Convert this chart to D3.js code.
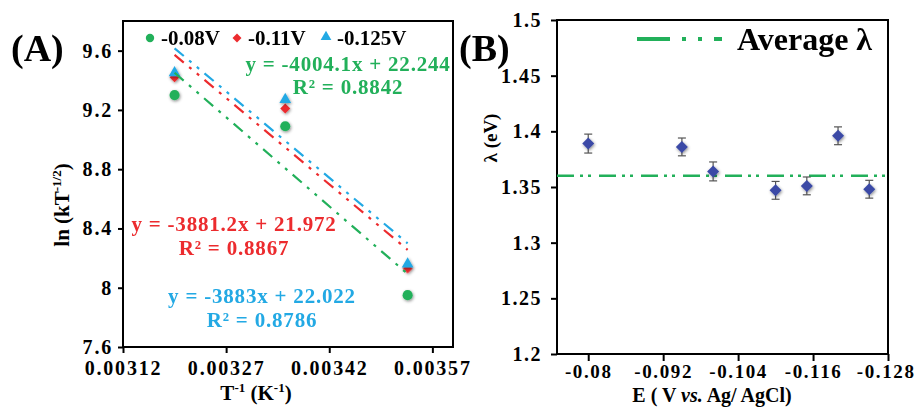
<!DOCTYPE html>
<html>
<head>
<meta charset="utf-8">
<script src="https://cdn.jsdelivr.net/npm/d3@7"></script>
<style>
  body { margin: 0; background: #fff; }
  svg text { font-family: "Liberation Serif", "Times New Roman", serif; font-weight: bold; fill: #000; }
</style>
</head>
<body>
<svg id="chart" width="919" height="407"></svg>
<script>
// ---- Panel A: ln(kT^-1/2) vs 1/T at three potentials ----
const invT = [0.003195, 0.003356, 0.003534];
const seriesNames = ["-0.08V", "-0.11V", "-0.125V"];
const lnK_080 = [9.30, 9.09, 7.95];
const lnK_110 = [9.42, 9.21, 8.13];
const lnK_125 = [9.45, 9.27, 8.16];
const fitSlopes = [-4004.1, -3881.2, -3883];
const fitIntercepts = [22.244, 21.972, 22.022];
const fitR2 = ["0.8842", "0.8867", "0.8786"];
const xTicksA = [0.00312, 0.00327, 0.00342, 0.00357];
const xTickLabelsA = ["0.00312", "0.00327", "0.00342", "0.00357"];
const yTicksA = [7.6, 8, 8.4, 8.8, 9.2, 9.6];
const yTickLabelsA = ["7.6", "8", "8.4", "8.8", "9.2", "9.6"];

// ---- Panel B: reorganisation energy vs potential ----
const potentialE = [-0.08, -0.095, -0.1, -0.11, -0.115, -0.12, -0.125];
const lambdaEV = [1.389, 1.386, 1.364, 1.347, 1.351, 1.396, 1.348];
const lambdaErr = [0.0085, 0.008, 0.0085, 0.008, 0.008, 0.008, 0.008];
const avgLambda = 1.36;
const xTicksB = [-0.08, -0.092, -0.104, -0.116, -0.128];
const xTickLabelsB = ["-0.08", "-0.092", "-0.104", "-0.116", "-0.128"];
const yTicksB = [1.2, 1.25, 1.3, 1.35, 1.4, 1.45, 1.5];
const yTickLabelsB = ["1.2", "1.25", "1.3", "1.35", "1.4", "1.45", "1.5"];

const GREEN = "#22B05A", RED = "#EC2B2E", BLUE = "#23A9E4", NAVY = "#3B4AA6";
const seriesColors = [GREEN, RED, BLUE];
const seriesValues = [lnK_080, lnK_110, lnK_125];

const svg = d3.select("#chart");
const defs = svg.append("defs");
const f = defs.append("filter").attr("id", "soft")
  .attr("x", "-60%").attr("y", "-60%").attr("width", "220%").attr("height", "220%");
f.append("feDropShadow").attr("dx", 0.8).attr("dy", 1.2).attr("stdDeviation", 1.5)
  .attr("flood-color", "#000").attr("flood-opacity", 0.45);

function styleAxis(g, size, spacing) {
  g.attr("font-family", null).attr("font-size", null);
  g.select(".domain").remove();
  g.selectAll(".tick line").attr("stroke", "#000").attr("stroke-width", 2);
  g.selectAll(".tick text")
    .style("font-size", size + "px")
    .style("letter-spacing", spacing + "px")
    .attr("fill", "#000");
}

function symbolPath(type, size) {
  return d3.symbol().type(type).size(size)();
}

// ================= Panel A =================
const xA = d3.scaleLinear().domain([0.00312, 0.0036]).range([123, 453]);
const yA = d3.scaleLinear().domain([7.6, 9.8]).range([347, 21]);
const gA = svg.append("g");

gA.append("g").attr("transform", "translate(0,347)")
  .call(d3.axisBottom(xA).tickValues(xTicksA).tickFormat((d, i) => xTickLabelsA[i]).tickSize(6).tickPadding(8))
  .call(g => styleAxis(g, 20, 1.8));
gA.append("g").attr("transform", "translate(123,0)")
  .call(d3.axisLeft(yA).tickValues(yTicksA).tickFormat((d, i) => yTickLabelsA[i]).tickSize(5).tickPadding(5))
  .call(g => styleAxis(g, 20, 1.8));

gA.append("rect").attr("x", xA.range()[0]).attr("y", yA.range()[1])
  .attr("width", xA.range()[1] - xA.range()[0]).attr("height", yA.range()[0] - yA.range()[1])
  .attr("fill", "none").attr("stroke", "#000").attr("stroke-width", 2);

// markers
const markerTypes = [d3.symbolCircle, d3.symbolSquare, d3.symbolTriangle];
const markerSizes = [80, 50, 60];
const markerRot = [0, 45, 0];
seriesValues.forEach((vals, s) => {
  gA.append("g").attr("filter", "url(#soft)").selectAll("path")
    .data(vals).join("path")
    .attr("d", symbolPath(markerTypes[s], markerSizes[s]))
    .attr("transform", (d, i) => `translate(${xA(invT[i])},${yA(d)}) rotate(${markerRot[s]})`)
    .attr("fill", seriesColors[s]);
});

// linear fit lines
const x0 = d3.min(invT), x1 = d3.max(invT);
const fitLine = d3.line().x(d => xA(d[0])).y(d => yA(d[1]));
fitSlopes.forEach((m, s) => {
  const b = fitIntercepts[s];
  gA.append("path")
    .attr("d", fitLine([[x0, m * x0 + b], [x1, m * x1 + b]]))
    .attr("fill", "none").attr("stroke", seriesColors[s]).attr("stroke-width", 2.2)
    .attr("stroke-dasharray", "12,7,3,7,3,7");
});

// fit equations
const eqPos = [[348, 71, 94], [234, 231, 255], [262, 303, 327]];
fitSlopes.forEach((m, s) => {
  const [cx, y1, y2] = eqPos[s];
  gA.append("text").attr("x", cx).attr("y", y1).attr("text-anchor", "middle")
    .style("font-size", "21px").style("letter-spacing", "0.8px").style("fill", seriesColors[s])
    .text(`y = ${m}x + ${fitIntercepts[s]}`);
  gA.append("text").attr("x", cx).attr("y", y2).attr("text-anchor", "middle")
    .style("font-size", "21px").style("letter-spacing", "0.8px").style("fill", seriesColors[s])
    .text(`R² = ${fitR2[s]}`);
});

// legend
const legA = [[150, 38, 161], [237, 38, 248], [326, 37, 337]];
seriesNames.forEach((name, s) => {
  const [mx, my, tx] = legA[s];
  gA.append("path").attr("d", symbolPath(markerTypes[s], [55, 40, 50][s]))
    .attr("transform", `translate(${mx},${my}) rotate(${markerRot[s]})`)
    .attr("fill", seriesColors[s]);
  gA.append("text").attr("x", tx).attr("y", 45).style("font-size", "21px").text(name);
});

gA.append("text").attr("x", 11).attr("y", 61).style("font-size", "38px").text("(A)");

// axis titles
const yLabA = gA.append("text").attr("transform", "translate(69,205) rotate(-90)")
  .attr("text-anchor", "middle").style("font-size", "21px");
yLabA.append("tspan").text("ln (kT");
yLabA.append("tspan").attr("dy", -8).style("font-size", "13px").text("-1/2");
yLabA.append("tspan").attr("dy", 8).text(")");

const xLabA = gA.append("text").attr("x", 256).attr("y", 400)
  .attr("text-anchor", "middle").style("font-size", "21px");
xLabA.append("tspan").text("T");
xLabA.append("tspan").attr("dy", -8).style("font-size", "13px").text("-1");
xLabA.append("tspan").attr("dy", 8).text(" (K");
xLabA.append("tspan").attr("dy", -8).style("font-size", "13px").text("-1");
xLabA.append("tspan").attr("dy", 8).text(")");

// ================= Panel B =================
const xB = d3.scaleLinear().domain([-0.075, -0.128]).range([557, 888]);
const yB = d3.scaleLinear().domain([1.2, 1.5]).range([354, 20]);
const gB = svg.append("g");

gB.append("g").attr("transform", "translate(0,354)")
  .call(d3.axisBottom(xB).tickValues(xTicksB).tickFormat((d, i) => xTickLabelsB[i]).tickSize(7).tickPadding(4))
  .call(g => styleAxis(g, 19, 1.6))
  .call(g => {
    // keep the last label inside the figure
    g.selectAll(".tick").filter((d, i, n) => i === n.length - 1).select("text")
      .attr("text-anchor", "end").attr("x", 27);
  });
gB.append("g").attr("transform", "translate(557,0)")
  .call(d3.axisLeft(yB).tickValues(yTicksB).tickFormat((d, i) => yTickLabelsB[i]).tickSize(6).tickPadding(9))
  .call(g => styleAxis(g, 20, 1.5));

gB.append("rect").attr("x", xB.range()[0]).attr("y", yB.range()[1])
  .attr("width", xB.range()[1] - xB.range()[0]).attr("height", yB.range()[0] - yB.range()[1])
  .attr("fill", "none").attr("stroke", "#000").attr("stroke-width", 2);

// average line
gB.append("line")
  .attr("x1", xB.range()[0]).attr("x2", xB.range()[1])
  .attr("y1", yB(avgLambda)).attr("y2", yB(avgLambda))
  .attr("stroke", GREEN).attr("stroke-width", 2.5)
  .attr("stroke-dasharray", "17,6,3,5,3,8");

// error bars
const eb = gB.append("g").attr("stroke", "#555").attr("stroke-width", 1.2);
potentialE.forEach((e, i) => {
  const cx = xB(e), lo = yB(lambdaEV[i] - lambdaErr[i]), hi = yB(lambdaEV[i] + lambdaErr[i]);
  eb.append("line").attr("x1", cx).attr("x2", cx).attr("y1", lo).attr("y2", hi);
  eb.append("line").attr("x1", cx - 4).attr("x2", cx + 4).attr("y1", lo).attr("y2", lo);
  eb.append("line").attr("x1", cx - 4).attr("x2", cx + 4).attr("y1", hi).attr("y2", hi);
});

// data markers
gB.append("g").attr("filter", "url(#soft)").selectAll("path")
  .data(lambdaEV).join("path")
  .attr("d", symbolPath(d3.symbolSquare, 72))
  .attr("transform", (d, i) => `translate(${xB(potentialE[i])},${yB(d)}) rotate(45)`)
  .attr("fill", NAVY);

// legend
gB.append("line").attr("x1", 637).attr("x2", 722).attr("y1", 39).attr("y2", 39)
  .attr("stroke", GREEN).attr("stroke-width", 4)
  .attr("stroke-dasharray", "33,12,4,12,4,12");
gB.append("text").attr("x", 737).attr("y", 50).style("font-size", "32px").text("Average λ");

gB.append("text").attr("x", 459).attr("y", 61).style("font-size", "38px").text("(B)");

gB.append("text").attr("transform", "translate(497,138) rotate(-90)")
  .attr("text-anchor", "middle").style("font-size", "19px").text("λ (eV)");

const xLabB = gB.append("text").attr("x", 712).attr("y", 402)
  .attr("text-anchor", "middle").style("font-size", "20px");
xLabB.append("tspan").text("E ( V ");
xLabB.append("tspan").style("font-style", "italic").text("vs.");
xLabB.append("tspan").text(" Ag/ AgCl)");
</script>
</body>
</html>
